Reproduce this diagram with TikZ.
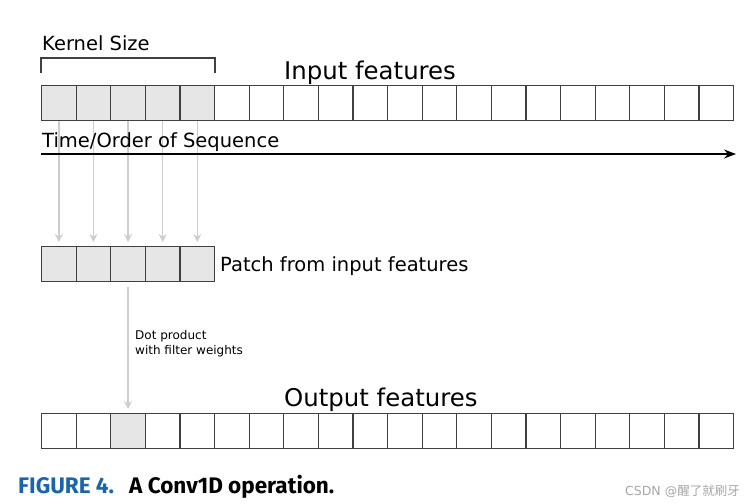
\documentclass[tikz,border=0pt]{standalone}
\usepackage{fontspec}
\setmainfont{DejaVu Sans}
\newfontfamily\capfont{Fira Sans}
\newfontfamily\cjkfont{Noto Sans CJK SC}
\usetikzlibrary{arrows.meta}
\definecolor{cellgray}{RGB}{230,230,230}
\definecolor{arrgray}{RGB}{205,205,205}
\definecolor{capblue}{RGB}{25,100,175}
\tikzset{
  cell/.style={draw=black!75, line width=1.1pt, minimum width=34.6pt, minimum height=35pt, inner sep=0pt, anchor=north west},
  filled/.style={fill=cellgray},
  garrow/.style={draw=arrgray, line width=1.4pt, shorten >=4pt, -{Stealth[length=8pt,width=8pt]}},
  lbl/.style={inner sep=0pt, anchor=base west},
}
\begin{document}
\begin{tikzpicture}[x=1pt,y=-1pt]
\useasboundingbox (0,0) rectangle (749,503);
% input row
\foreach \i in {0,...,19} {
  \pgfmathsetmacro\xx{41+34.6*\i}
  \ifnum\i<5
    \node[cell,filled] (in\i) at (\xx,85) {};
  \else
    \node[cell] (in\i) at (\xx,85) {};
  \fi
}
% kernel bracket
\coordinate (kb1) at (41,73);
\coordinate (kb2) at (215,73);
\coordinate (kt1) at (41,58);
\coordinate (kt2) at (215,58);
\draw[black!75, line width=1.1pt] (kb1) -- (kt1) -- (kt2) -- (kb2);
\node[lbl, font=\fontsize{19.5}{22}\selectfont] (ks) at (42,51) {Kernel Size};
\node[lbl, font=\fontsize{24.4}{28}\selectfont] (inf) at (284,79) {Input features};
% patch row
\foreach \i in {0,...,4} {
  \pgfmathsetmacro\xx{41+34.6*\i}
  \node[cell,filled] (p\i) at (\xx,246) {};
}
\foreach \i in {0,...,4} {
  \draw[garrow] (in\i.south) -- (p\i.north);
}
% time arrow
\node[lbl, font=\fontsize{19.5}{22}\selectfont] (tos) at (42,147) {Time/Order of Sequence};
\coordinate (ta1) at (41,154);
\coordinate (ta2) at (736,154);
\draw[line width=1.4pt, -{Stealth[length=12pt,width=9pt,inset=4pt]}] (ta1) -- (ta2);
\node[lbl, font=\fontsize{19.5}{22}\selectfont] (pt) at (220,271) {Patch from input features};
% output row
\foreach \i in {0,...,19} {
  \pgfmathsetmacro\xx{41+34.6*\i}
  \ifnum\i=2
    \node[cell,filled] (o\i) at (\xx,413) {};
  \else
    \node[cell] (o\i) at (\xx,413) {};
  \fi
}
\draw[garrow] ([yshift=-5pt]p2.south) -- (o2.north);
\node[lbl, font=\fontsize{12}{15}\selectfont, align=left] (dp) at (135,354) {Dot product\\with filter weights};
\node[lbl, font=\fontsize{24.4}{28}\selectfont] (outf) at (284,406) {Output features};
% caption
\node[lbl, font=\capfont\bfseries\fontsize{22.5}{26}\selectfont, text=capblue] (fig) at (18,493) {FIGURE 4.};
\node[lbl, font=\capfont\bfseries\fontsize{22.5}{26}\selectfont] (capt) at (129,493) {A Conv1D operation.};
\node[lbl, font=\fontsize{12.5}{14}\selectfont, text=black!35] (wm) at (625,495) {CSDN @{\cjkfont 醒了就刷牙}};
\end{tikzpicture}
\end{document}
